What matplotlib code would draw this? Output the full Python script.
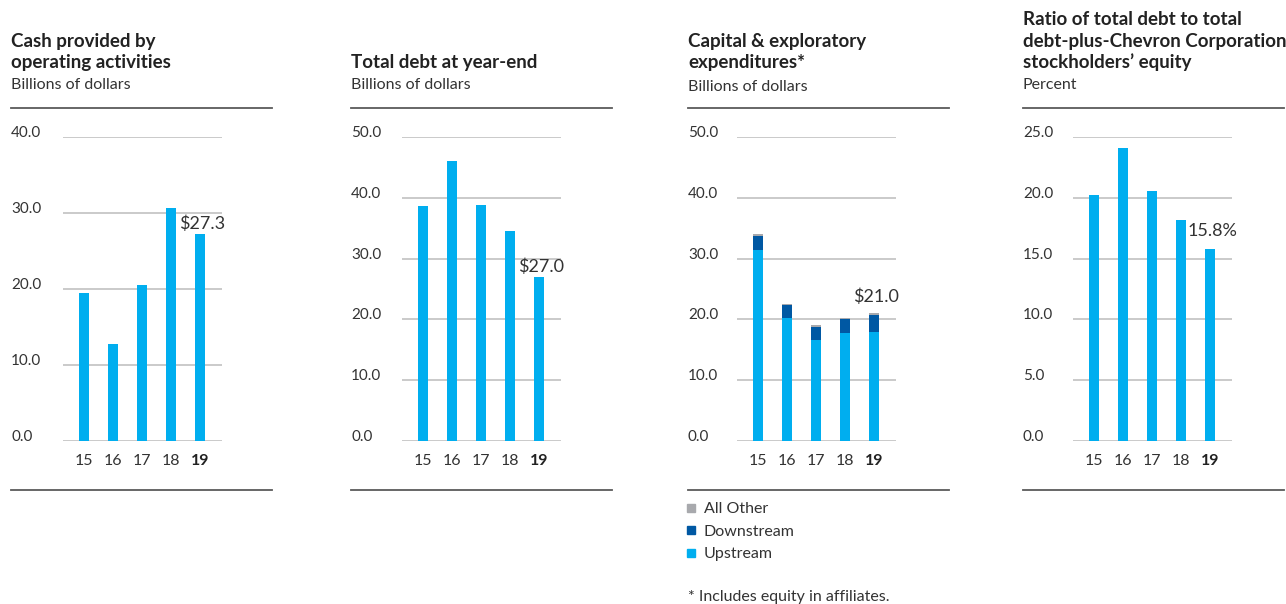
import matplotlib
matplotlib.use('Agg')
import matplotlib.pyplot as plt
from matplotlib.lines import Line2D
import numpy as np

plt.rcParams['font.family'] = ['Lato', 'DejaVu Sans']

# data (billions of dollars / percent)
years = ['15', '16', '17', '18', '19']
cash = [19.5, 12.8, 20.5, 30.6, 27.3]
debt = [38.6, 46.1, 38.8, 34.5, 27.0]
upstream = [31.4, 20.2, 16.6, 17.7, 17.9]
downstream = [2.3, 2.1, 2.1, 2.4, 2.9]
other = [0.4, 0.3, 0.3, 0.05, 0.2]
ratio = [20.2, 24.1, 20.6, 18.2, 15.8]

titles = [['Cash provided by', 'operating activities'],
          ['Total debt at year-end'],
          ['Capital & exploratory', 'expenditures*'],
          ['Ratio of total debt to total', 'debt-plus-Chevron Corporation', 'stockholders\u2019 equity']]
subtitles = ['Billions of dollars', 'Billions of dollars', 'Billions of dollars', 'Percent']
ymax = [40, 50, 50, 25]
ystep = [10, 10, 10, 5]
callouts = ['$27.3', '$27.0', '$21.0', '15.8%']

BLUE = '#00aeef'
NAVY = '#0058a3'
GREY = '#a8a9ad'
GRID = '#c6c6c6'
RULE = '#5a5a5a'
TXT = '#333333'

W, H = 1286, 604
fig = plt.figure(figsize=(W / 100, H / 100), dpi=100)

def fx(px):
    return px / W

def fy(py):
    return 1 - py / H

panel_left = [11, 351, 688, 1023]
grid_left = [63, 402, 737, 1073]
rule_right = [272, 612, 949, 1284]
call_dy = [2, 2, 8, 10]
grid_w = 159
y_top, y_zero = 137, 441

for i in range(4):
    L = panel_left[i]
    ax = fig.add_axes([fx(grid_left[i]), fy(y_zero), fx(grid_w), (y_zero - y_top) / H])
    ax.set_xlim(-21 / 29, 4 + 22 / 29)
    ax.set_ylim(0, ymax[i])
    ax.axis('off')
    x = np.arange(5)
    ticks = np.arange(0, ymax[i] + 0.01, ystep[i])
    for t in ticks:
        ax.axhline(t, color=GRID, lw=1.3, zorder=0)
    bw = 10 / 29
    if i == 0:
        ax.bar(x, cash, bw, color=BLUE, zorder=2)
        top = cash[-1]
    elif i == 1:
        ax.bar(x, debt, bw, color=BLUE, zorder=2)
        top = debt[-1]
    elif i == 2:
        ax.bar(x, upstream, bw, color=BLUE, zorder=2)
        ax.bar(x, downstream, bw, bottom=upstream, color=NAVY, zorder=2)
        base2 = np.array(upstream) + np.array(downstream)
        ax.bar(x, other, bw, bottom=base2, color=GREY, zorder=2)
        top = base2[-1] + other[-1]
    else:
        ax.bar(x, ratio, bw, color=BLUE, zorder=2)
        top = ratio[-1]

    ax.annotate(callouts[i], (4, top), xytext=(2, call_dy[i]), textcoords='offset pixels',
                ha='center', va='bottom', fontsize=13, color=TXT)

    # y tick labels, left aligned at panel edge
    for t in ticks:
        fig.text(fx(L), fy(y_zero - (t / ymax[i]) * (y_zero - y_top)), '%.1f' % t,
                 ha='left', va='baseline', fontsize=11, color=TXT)
    # x tick labels
    for k, yr in enumerate(years):
        ax.text(k, -24 / 304 * ymax[i], yr, ha='center', va='baseline',
                fontsize=11.5, color='#222222' if k == 4 else TXT,
                fontweight='bold' if k == 4 else 'normal')

    # titles
    lines = titles[i]
    for j, line in enumerate(lines):
        base = 68 - 21.5 * (len(lines) - 1 - j)
        fig.text(fx(L), fy(base), line, ha='left', va='baseline', fontsize=13.5,
                 fontweight='bold', color='#222222')
    fig.text(fx(L), fy(89 if i != 2 else 91), subtitles[i], ha='left', va='baseline',
             fontsize=11.5, color=TXT)

    # top and bottom rules
    for ry in (107.5, 490):
        fig.add_artist(Line2D([fx(L), fx(rule_right[i])], [fy(ry), fy(ry)], color=RULE, lw=1.3))

# legend for the stacked panel
handles = [Line2D([], [], marker='s', ls='none', color=c, markersize=5.5) for c in (GREY, NAVY, BLUE)]
fig.legend(handles, ['All Other', 'Downstream', 'Upstream'], loc='upper left',
           bbox_to_anchor=(fx(686), fy(502)), frameon=False, handlelength=0.6,
           handletextpad=0.5, labelspacing=0.52, fontsize=11.5, labelcolor=TXT,
           borderpad=0, borderaxespad=0)

fig.text(fx(688), fy(601), '* Includes equity in affiliates.', ha='left', va='baseline',
         fontsize=11.5, color=TXT)

fig.savefig('out.png', dpi=100)
